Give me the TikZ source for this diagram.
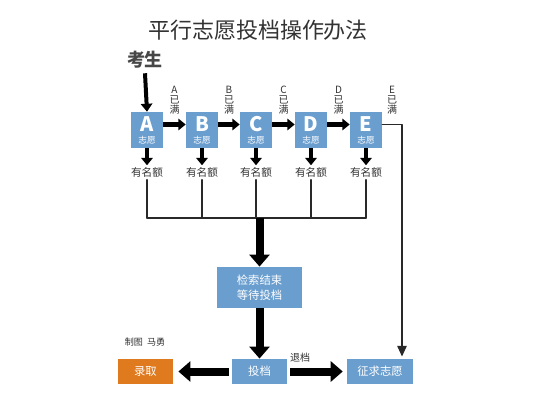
\documentclass[tikz,border=0pt]{standalone}
\usepackage{fontspec}
\setmainfont{Noto Sans CJK SC}
\usetikzlibrary{arrows.meta,positioning,calc}
\definecolor{zyblue}{HTML}{6A9ECF}
\definecolor{zyorange}{HTML}{E07A1F}
\definecolor{zytext}{HTML}{333333}
\tikzset{
	zybox/.style={fill=zyblue, text=white, inner sep=0pt, align=center},
	zyletter/.style={text=white, inner sep=0pt, font=\fontsize{15}{15}\selectfont\bfseries},
	zysmall/.style={text=white, inner sep=0pt, font=\fontsize{6.5}{7}\selectfont},
	zylabel/.style={text=zytext, inner sep=1.5pt, font=\fontsize{8}{9}\selectfont},
	zyfull/.style={text=zytext, inner sep=0pt, align=center, font=\fontsize{7.5}{7.6}\selectfont},
	midarrow/.style={line width=3.2pt, line cap=butt, -{Triangle[width=8.5pt,length=5.5pt]}},
	bigarrow/.style={line width=6pt, line cap=butt, -{Triangle[width=15pt,length=9pt]}},
	thinline/.style={line width=1.1pt, zytext!80!black}
}
\begin{document}
\begin{tikzpicture}[x=0.75pt, y=-0.75pt, line join=round, line cap=round]
	\useasboundingbox[fill=white] (0,0) rectangle (533,400);
	% title
	\node[text=zytext, font=\fontsize{16.5}{17}\selectfont] (title) at (258,30) {平行志愿投档操作办法};
	\node[text=zytext!90, font=\fontsize{13.5}{14}\selectfont\bfseries] (ks) at (145,60) {考生};
	% A--E
	\foreach \n/\x in {A/147,B/202,C/256,D/311,E/366}{
		\node[zybox, minimum width=24pt, minimum height=27pt] (\n) at (\x,130) {};
		\node[zyletter] (\n-let) at (\x,124.5) {\n};
		\node[zysmall] (\n-zy) at (\x,140.5) {志愿};
		\node[zylabel] (\n-q) at (\x,172.5) {有名额};
		\draw[midarrow] (\n.south) -- (\n-q.north);
	}
	\foreach \n/\m in {A/B,B/C,C/D,D/E}{
		\node[zyfull] (\n-full) at ($(\n.east)!0.5!(\m.west)+(0,-30)$) {\n\\已\\满};
		\draw[midarrow] (\n.east |- \n-let) -- (\m.west |- \n-let);
	}
	\node[zyfull] (E-full) at (392,100) {E\\已\\满};
	\draw[line width=3pt, line cap=butt, -{Triangle[width=8.5pt,length=6pt]}] (ks.south) -- (A.north);
	% collecting lines
	\coordinate (bus) at (259,218);
	\foreach \n in {A,B,C,D,E}
		\draw[thinline] (\n-q.south) -- (\n-q.south |- bus);
	\draw[thinline] (A-q.south |- bus) -- (E-q.south |- bus);
	% lower part
	\node[zybox, minimum width=64pt, minimum height=31pt, font=\fontsize{8.5}{11}\selectfont] (wait) at (259.5,287.5) {检索结束\\等待投档};
	\node[zybox, minimum width=41pt, minimum height=19pt, font=\fontsize{8.5}{9}\selectfont] (tou) at (259.5,371.5) {投档};
	\node[zybox, fill=zyorange, minimum width=41pt, minimum height=19pt, font=\fontsize{8.5}{9}\selectfont] (luqu) at (145.5,371.5) {录取};
	\node[zybox, minimum width=49.5pt, minimum height=19pt, font=\fontsize{8.5}{9}\selectfont] (zq) at (380,371.5) {征求志愿};
	\draw[bigarrow] (wait.north |- bus) -- (wait.north);
	\draw[bigarrow] (wait.south) -- (tou.north);
	\draw[bigarrow, shorten <=2pt, shorten >=4pt] (tou.west) -- (luqu.east);
	\draw[bigarrow, shorten <=2pt, shorten >=3pt] (tou.east) -- (zq.west);
	\node[zyfull] (tui) at (300,358) {退档};
	\node[zyfull, font=\fontsize{6.8}{7}\selectfont] (credit) at (145,342) {制图\ \ 马勇};
	% E full
	\coordinate (Eturn) at (402,0);
	\draw[thinline, -{Triangle[width=7pt,length=8pt]}] (E.east |- E-let) -- (Eturn |- E-let) -- ([yshift=1.5pt]Eturn |- zq.north);
\end{tikzpicture}
\end{document}
